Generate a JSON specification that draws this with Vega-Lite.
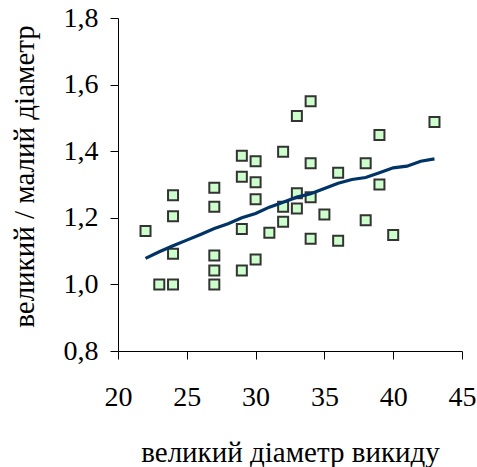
{
  "$schema": "https://vega.github.io/schema/vega-lite/v6.json",
  "autosize": "none",
  "width": 344,
  "height": 333,
  "padding": {"left": 118, "top": 18, "right": 15, "bottom": 116},
  "background": "white",
  "config": {
    "view": {"stroke": null},
    "font": "Times New Roman, Liberation Serif, serif",
    "axis": {
      "grid": false,
      "domainColor": "black",
      "tickColor": "black",
      "tickSize": 8,
      "labelColor": "black",
      "titleColor": "black",
      "labelFont": "Times New Roman, Liberation Serif, serif",
      "titleFont": "Times New Roman, Liberation Serif, serif",
      "labelFontSize": 28,
      "titleFontSize": 29,
      "titleFontWeight": "normal"
    }
  },
  "datasets": {
    "points": [
      {"x": 22, "y": 1.16}, {"x": 23, "y": 1.0}, {"x": 24, "y": 1.0}, {"x": 24, "y": 1.092},
      {"x": 24, "y": 1.205}, {"x": 24, "y": 1.268}, {"x": 27, "y": 1.0}, {"x": 27, "y": 1.042},
      {"x": 27, "y": 1.087}, {"x": 27, "y": 1.233}, {"x": 27, "y": 1.29}, {"x": 29, "y": 1.042},
      {"x": 29, "y": 1.166}, {"x": 29, "y": 1.323}, {"x": 29, "y": 1.386}, {"x": 30, "y": 1.075},
      {"x": 30, "y": 1.256}, {"x": 30, "y": 1.307}, {"x": 30, "y": 1.37}, {"x": 31, "y": 1.155},
      {"x": 32, "y": 1.188}, {"x": 32, "y": 1.233}, {"x": 32, "y": 1.398}, {"x": 33, "y": 1.506},
      {"x": 33, "y": 1.274}, {"x": 33, "y": 1.228}, {"x": 34, "y": 1.55}, {"x": 34, "y": 1.364},
      {"x": 34, "y": 1.262}, {"x": 34, "y": 1.137}, {"x": 35, "y": 1.21}, {"x": 36, "y": 1.335},
      {"x": 36, "y": 1.131}, {"x": 38, "y": 1.364}, {"x": 38, "y": 1.193}, {"x": 39, "y": 1.449},
      {"x": 39, "y": 1.3}, {"x": 40, "y": 1.148}, {"x": 43, "y": 1.488}
    ],
    "trend": [
      {"x": 22, "y": 1.078}, {"x": 23, "y": 1.098}, {"x": 24, "y": 1.116}, {"x": 25, "y": 1.133},
      {"x": 26, "y": 1.15}, {"x": 27, "y": 1.168}, {"x": 28, "y": 1.182}, {"x": 29, "y": 1.2},
      {"x": 30, "y": 1.213}, {"x": 31, "y": 1.232}, {"x": 32, "y": 1.247}, {"x": 33, "y": 1.262},
      {"x": 34, "y": 1.272}, {"x": 35, "y": 1.288}, {"x": 36, "y": 1.304}, {"x": 37, "y": 1.315},
      {"x": 38, "y": 1.321}, {"x": 39, "y": 1.335}, {"x": 40, "y": 1.35}, {"x": 41, "y": 1.355},
      {"x": 42, "y": 1.37}, {"x": 43, "y": 1.377}
    ]
  },
  "encoding": {
    "x": {
      "field": "x", "type": "quantitative",
      "scale": {"domain": [20, 45], "nice": false, "zero": false},
      "axis": {
        "title": "великий діаметр викиду",
        "values": [20, 25, 30, 35, 40, 45],
        "labelBaseline": "alphabetic",
        "labelPadding": 46,
        "titleBaseline": "alphabetic",
        "titleY": 110,
        "labelFlush": false
      }
    },
    "y": {
      "field": "y", "type": "quantitative",
      "scale": {"domain": [0.8, 1.8], "nice": false, "zero": false},
      "axis": {
        "title": "великий / малий діаметр",
        "values": [0.8, 1.0, 1.2, 1.4, 1.6, 1.8],
        "labelExpr": "replace(format(datum.value, '.1f'), '.', ',')",
        "labelPadding": 12,
        "labelFlush": false,
        "titleBaseline": "alphabetic",
        "titleX": -85,
        "titleY": 158
      }
    }
  },
  "layer": [
    {
      "data": {"name": "points"},
      "mark": {"type": "square", "size": 100, "filled": true, "color": "#ccffcc", "stroke": "#333333", "strokeWidth": 2, "opacity": 1}
    },
    {
      "data": {"name": "trend"},
      "mark": {"type": "line", "color": "#003366", "strokeWidth": 3.2}
    }
  ]
}
